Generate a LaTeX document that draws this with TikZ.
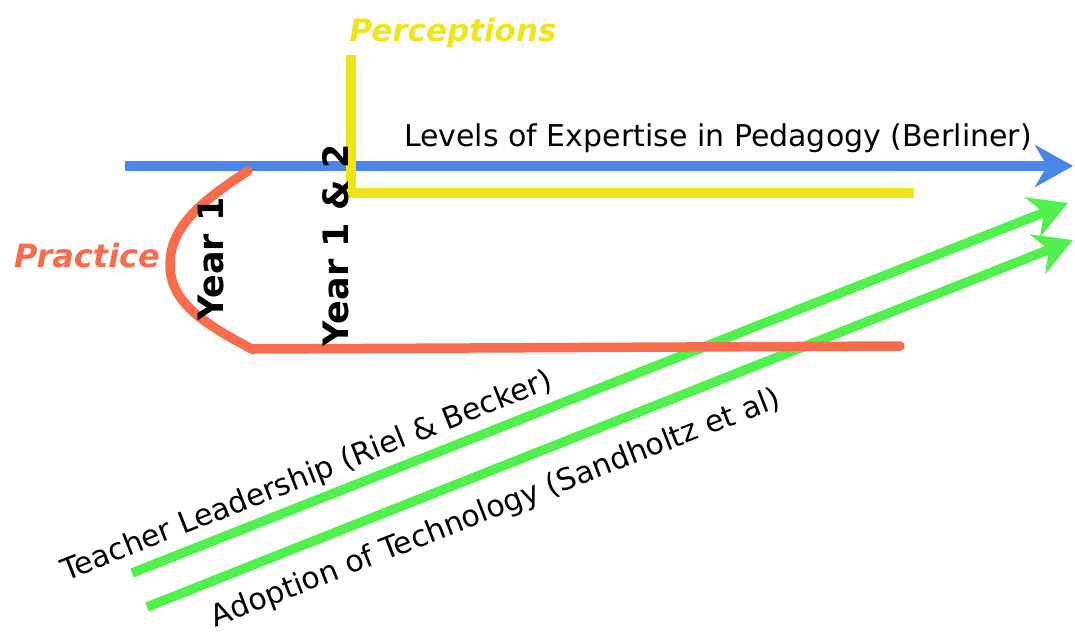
\documentclass[tikz,border=0pt]{standalone}
\usepackage{fontspec}
\setmainfont{DejaVu Sans}
\usetikzlibrary{arrows.meta}
\definecolor{expblue}{RGB}{74,134,232}
\definecolor{percyellow}{RGB}{240,228,28}
\definecolor{practorange}{RGB}{246,108,76}
\definecolor{adoptgreen}{RGB}{82,240,78}
\begin{document}
\begin{tikzpicture}[x=1pt,y=-1pt,line width=9.5pt,
  bigtip/.style={-{Stealth[length=38pt,width=42pt,inset=12pt]}},
  label/.style={font=\fontsize{30}{34}\selectfont,inner sep=0pt},
  yearlabel/.style={font=\bfseries\fontsize{35}{38}\selectfont,rotate=90,inner sep=0pt}]
 \useasboundingbox[fill=white] (0,0) rectangle (1075,633);
 % axes
 \coordinate (bstart) at (125,166);
 \coordinate (bend) at (1073,166);
 \coordinate (tstart) at (132,573);
 \coordinate (tend) at (1068,203);
 \coordinate (astart) at (147,607);
 \coordinate (aend) at (1073,240);
 \draw[expblue,bigtip] (bstart) -- (bend);
 \draw[adoptgreen,bigtip] (tstart) -- (tend);
 \draw[adoptgreen,bigtip] (astart) -- (aend);
 % perceptions corner
 \coordinate (ptop) at (351,55);
 \coordinate (pcorner) at (351,193);
 \coordinate (pend) at (914,193);
 \draw[percyellow] (ptop) -- (pcorner) -- (pend);
 % practice loop
 \coordinate (ostart) at (248,171);
 \coordinate (oleft) at (170,265);
 \coordinate (obottom) at (252,349);
 \coordinate (oend) at (900,346);
 \draw[practorange,line cap=round] (ostart) .. controls (195,205) and (170,230) .. (oleft)
   .. controls (170,300) and (200,322) .. (obottom) -- (oend);
 % labels
 \node[label] (berliner) at (718,138) {Levels of Expertise in Pedagogy (Berliner)};
 \node[font=\bfseries\itshape\fontsize{31}{34}\selectfont,text=percyellow,inner sep=0pt] (perceptions) at (453,33) {Perceptions};
 \node[font=\bfseries\itshape\fontsize{32}{35}\selectfont,text=practorange,inner sep=0pt] (practice) at (87,256) {Practice};
 \node[yearlabel] (yearone) at (211,259) {Year 1};
 \node[yearlabel] (yearonetwo) at (336,245) {Year 1 \& 2};
 \node[label,rotate=21.6] (riel) at (307,477) {Teacher Leadership (Riel \& Becker)};
 \node[label,rotate=21.3] (sandholtz) at (496,509) {Adoption of Technology (Sandholtz et al)};
\end{tikzpicture}
\end{document}
